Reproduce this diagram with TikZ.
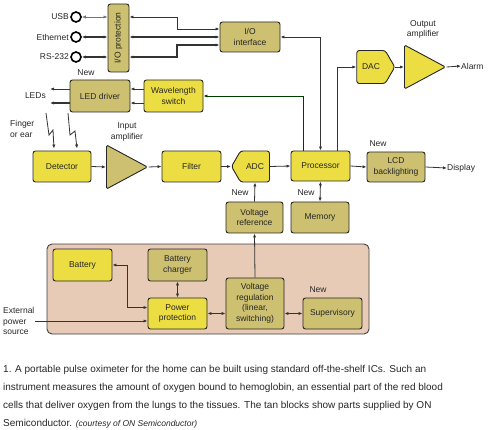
\documentclass[tikz,border=0pt]{standalone}
\usepackage{fontspec}
\setmainfont{Liberation Sans}
\usetikzlibrary{arrows.meta,shapes.geometric,shapes.symbols}
\definecolor{boxyellow}{RGB}{236,222,66}
\definecolor{boxtan}{RGB}{205,192,112}
\definecolor{peach}{RGB}{232,203,182}
\begin{document}
\begin{tikzpicture}[x=1pt,y=-1pt,>={Latex[length=4pt,width=3.2pt]},
  blk/.style={draw=black!85, line width=0.9pt, rounded corners=2.5pt, align=center, inner sep=1pt,
    text=black!85, font=\fontsize{8.5}{10.5}\selectfont},
  yelbox/.style={blk, fill=boxyellow, minimum width=59, minimum height=31},
  tanbox/.style={blk, fill=boxtan, minimum width=59, minimum height=31},
  ampbox/.style={blk, isosceles triangle, isosceles triangle stretches, inner sep=0pt,
    minimum width=44, minimum height=41, rounded corners=1.5pt, anchor=lower side},
  sigbox/.style={blk, signal, signal pointer angle=120, minimum width=38, minimum height=33, inner sep=0pt},
  jack/.style={circle, draw=black, line width=1.6pt, fill=white, inner sep=0pt, minimum size=10,
    path picture={\fill (path picture bounding box.center) circle (2.6pt);}},
  lbl/.style={inner sep=0pt, text=black!85, align=left, font=\fontsize{8.5}{10.5}\selectfont},
  wire/.style={draw=black!80, line width=0.8pt}]
\useasboundingbox (0,0) rectangle (500,430);

\node[draw=black!75, fill=peach, line width=0.9pt, rounded corners=5pt,
  minimum width=322, minimum height=90] (pwr) at (208,289) {};

\node[jack] (usbj) at (76,17) {};
\node[jack] (ethj) at (76,37) {};
\node[jack] (rsj) at (76,57) {};
\node[tanbox, minimum width=21, minimum height=68] (iop) at (118.5,38) {\rotatebox{90}{I/O protection}};
\node[tanbox, minimum width=60, minimum height=30] (ioi) at (250,37) {I/O\\interface};
\node[sigbox, signal to=east, fill=boxyellow] (dac) at (371,67) {DAC};
\node[ampbox, fill=boxyellow] (oamp) at (404,67) {};
\node[tanbox, minimum width=60, minimum height=32] (led) at (100,96) {LED driver};
\node[yelbox, minimum height=32] (wsw) at (173.5,96) {Wavelength\\switch};
\node[yelbox, minimum width=58] (det) at (62,166.5) {Detector};
\node[ampbox, fill=boxtan] (iamp) at (106,167) {};
\node[yelbox] (filt) at (191.5,166.5) {Filter};
\node[sigbox, signal to=west, fill=boxyellow, minimum height=31] (adc) at (255,166.5) {ADC};
\node[yelbox, minimum height=30] (proc) at (320.5,166) {Processor};
\node[tanbox, minimum width=58, minimum height=30] (lcd) at (396,167) {LCD\\backlighting};
\node[tanbox, minimum width=57] (vref) at (254.5,217.5) {Voltage\\reference};
\node[tanbox, minimum width=58] (mem) at (320,217.5) {Memory};
\node[yelbox, minimum height=32] (bat) at (82.5,265) {Battery};
\node[tanbox, minimum height=32] (chg) at (177.5,265) {Battery\\charger};
\node[yelbox] (pp) at (177.5,313.5) {Power\\protection};
\node[tanbox, minimum width=58, minimum height=51] (vreg) at (255,303.5) {Voltage\\regulation\\(linear,\\switching)};
\node[tanbox] (sup) at (332.5,313.5) {Supervisory};

\node[lbl, anchor=east] (usbl) at (69,17) {USB};
\node[lbl, anchor=east] (ethl) at (69,37) {Ethernet};
\node[lbl, anchor=east] (rsl) at (69,57) {RS-232};
\node[lbl, align=center] (oampl) at (423,29.5) {Output\\amplifier};
\node[lbl, anchor=west] (alarm) at (461,66) {Alarm};
\node[lbl, anchor=east] (leds) at (46,96) {LEDs};
\node[lbl, anchor=west] (fing) at (10,129) {Finger\\or ear};
\node[lbl, align=center] (iampl) at (127,132) {Input\\amplifier};
\node[lbl, anchor=west] (disp) at (447,168) {Display};
\node[lbl, anchor=west] (ext) at (3,321) {External\\power\\source};
\node[lbl] (newled) at (86,73) {New};
\node[lbl] (newlcd) at (378,144) {New};
\node[lbl] (newvref) at (240,193) {New};
\node[lbl] (newmem) at (306,193) {New};
\node[lbl] (newsup) at (318,290) {New};
\coordinate (fin1) at (46,113);
\coordinate (fin2) at (68,113);

\node[lbl, anchor=north west, font=\fontsize{10}{18}\selectfont] (cap) at (3,365) {1. A portable pulse oximeter for the home can be built using standard off-the-shelf ICs. Such an\\
instrument measures the amount of oxygen bound to hemoglobin, an essential part of the red blood\\
cells that deliver oxygen from the lungs to the tissues. The tan blocks show parts supplied by ON\\
Semiconductor. {\fontsize{8.5}{18}\selectfont\itshape (courtesy of ON Semiconductor)}};

\path[wire,<->,draw=black!55,line width=0.6pt] (usbj) -- (iop.west |- usbj);
\path[wire,<->,line width=1.1pt] (ethj) -- (iop.west |- ethj);
\path[wire,<->,line width=1.1pt] (rsj) -- (iop.west |- rsj);
\path[wire,<->] (iop.east |- usbj) -- (177,17) |- ([yshift=8pt]ioi.west);
\path[wire,<->,line width=1.1pt] (iop.east |- ethj) -- (ioi.west |- ethj);
\path[wire,<->,line width=1.1pt] (iop.east |- rsj) -- (177,57) |- ([yshift=-8pt]ioi.west);
\path[wire,<->] (proc.north) |- (ioi.east);
\path[wire,->,draw=black!60!green!60!black] ([xshift=-17pt]proc.north) |- (wsw.east);
\path[wire,->] ([xshift=17pt]proc.north) |- (dac.west);
\path[wire,->] (dac.east) -- (oamp.lower side);
\path[wire,->] (oamp.apex) -- (alarm.west);
\path[wire,->] ([yshift=7pt]wsw.west) -- ([yshift=7pt]led.east);
\path[wire,->] ([yshift=-7pt]wsw.west) -- ([yshift=-7pt]led.east);
\path[wire,->] ([yshift=7pt]led.west) -- ([xshift=4pt,yshift=7pt]leds.east);
\path[wire,->,line width=1.1pt] ([yshift=-7pt]led.west) -- ([xshift=4pt,yshift=-7pt]leds.east);
\path[wire,->] (fin1) -- (49,135) -- (53,130) -- ([xshift=-8pt,yshift=2pt]det.north);
\path[wire,->] (fin2) -- (70,135) -- (75,131) -- ([xshift=15pt,yshift=2pt]det.north);
\path[wire,->] (det.east) -- (iamp.lower side);
\path[wire,->] (iamp.apex) -- (filt.west);
\path[wire,->] (filt.east) -- (adc.west);
\path[wire,->] (adc.east) -- (proc.west);
\path[wire,->] (proc.east) -- (lcd.west);
\path[wire,->] (lcd.east) -- (disp.west);
\path[wire,->] (vref.north) -- (adc.south);
\path[wire,<->] (mem.north) -- (proc.south);
\path[wire,->] (vreg.north) -- (vref.south);
\path[wire,<->] (bat.east) -- (127,265) |- ([yshift=6pt]pp.west);
\path[wire,<->] (chg.south) -- (pp.north);
\path[wire,<->] (pp.east) -- (pp.east -| vreg.west);
\path[wire,<->] (vreg.east |- sup) -- (sup.west);
\path[wire,->] (ext.east) -- (ext.east -| pp.west);
\end{tikzpicture}
\end{document}
